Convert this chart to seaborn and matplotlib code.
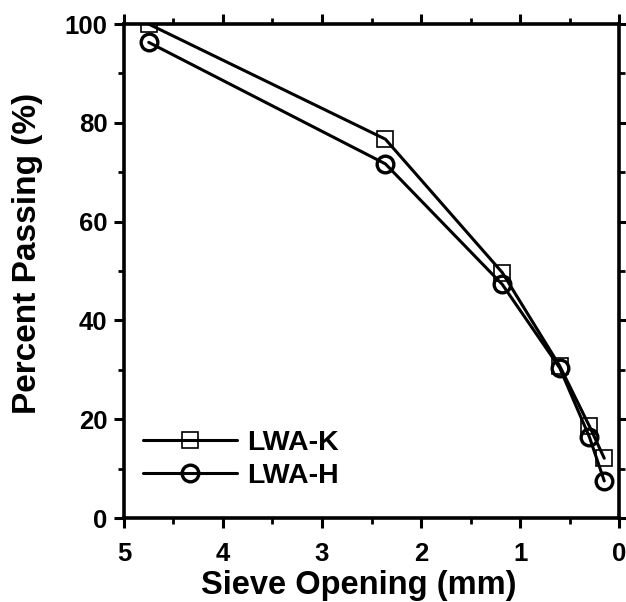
import matplotlib
matplotlib.use("Agg")
import matplotlib.pyplot as plt
import seaborn as sns
import pandas as pd
from matplotlib.ticker import MultipleLocator

# Sieve analysis of two lightweight aggregates
sieve_mm = [4.75, 2.36, 1.18, 0.6, 0.3, 0.15]
lwa_k = [100.0, 76.7, 49.7, 30.8, 18.6, 12.1]
lwa_h = [96.3, 71.7, 47.3, 30.4, 16.4, 7.5]

sns.set_theme(style="ticks")
plt.rcParams["font.family"] = ["Liberation Sans", "DejaVu Sans"]
plt.rcParams["font.weight"] = "bold"
plt.rcParams["text.color"] = "black"
plt.rcParams["axes.labelcolor"] = "black"
plt.rcParams["xtick.color"] = "black"
plt.rcParams["ytick.color"] = "black"

df_k = pd.DataFrame({"sieve": sieve_mm, "passing": lwa_k})
df_h = pd.DataFrame({"sieve": sieve_mm, "passing": lwa_h})

fig = plt.figure(figsize=(6.26, 6.02), dpi=100)
ax = fig.add_axes([0.198, 0.1395, 0.791, 0.8205])

sns.lineplot(data=df_k, x="sieve", y="passing", ax=ax, sort=False,
             color="black", linewidth=2.2, marker="s", markersize=11.5,
             markerfacecolor="none", markeredgecolor="black",
             markeredgewidth=1.2, label="LWA-K")
sns.lineplot(data=df_h, x="sieve", y="passing", ax=ax, sort=False,
             color="black", linewidth=2.2, marker="o", markersize=12,
             markerfacecolor="none", markeredgecolor="black",
             markeredgewidth=2.4, label="LWA-H")

ax.set_xlim(5, 0)
ax.set_ylim(0, 100)
ax.xaxis.set_major_locator(MultipleLocator(1))
ax.xaxis.set_minor_locator(MultipleLocator(0.5))
ax.yaxis.set_major_locator(MultipleLocator(20))
ax.yaxis.set_minor_locator(MultipleLocator(10))

ax.tick_params(which="both", direction="out", top=True, right=True,
               labeltop=False, labelright=False, colors="black")
ax.tick_params(which="major", length=7, width=2.2, labelsize=18.5)
ax.tick_params(axis="x", which="major", pad=10)
ax.tick_params(axis="y", which="major", pad=5)
ax.tick_params(which="minor", length=4, width=2.0)
for lab in ax.get_xticklabels() + ax.get_yticklabels():
    lab.set_fontweight("bold")

for sp in ax.spines.values():
    sp.set_visible(True)
    sp.set_linewidth(2.6)
    sp.set_color("black")

ax.set_xlabel("Sieve Opening (mm)", fontsize=23.5, fontweight="bold")
ax.set_ylabel("Percent Passing (%)", fontsize=24, fontweight="bold")
ax.xaxis.set_label_coords(0.475, -0.105)
ax.yaxis.set_label_coords(-0.164, 0.536)

leg = ax.legend(loc="lower left", bbox_to_anchor=(0.016, 0.035),
                borderaxespad=0, frameon=False,
                prop={"size": 20.5, "weight": "bold"}, handlelength=3.3,
                handletextpad=0.35, labelspacing=0.25)

fig.savefig("out.png", dpi=100)
